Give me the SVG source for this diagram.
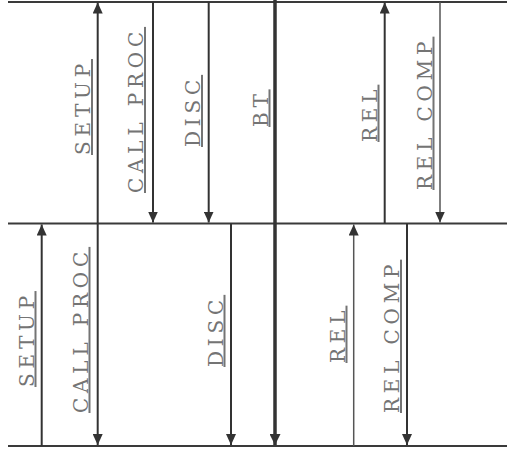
<svg xmlns="http://www.w3.org/2000/svg" width="509" height="450" viewBox="0 0 509 450">
<style>
.hl{stroke:#3a3a3a;stroke-width:2;fill:none}
.ar{stroke:#333;stroke-width:2;fill:none;marker-end:url(#ah)}
.thin{stroke:#555;stroke-width:1.5}
.bt{stroke:#333;stroke-width:3.5;fill:none;marker-end:url(#ahb)}
.lb{font-family:"DejaVu Serif",serif;font-size:20px;letter-spacing:4.8px;fill:#747474;text-decoration:underline}
</style>
<defs>
<marker id="ah" markerUnits="userSpaceOnUse" markerWidth="12" markerHeight="10" refX="11" refY="5" orient="auto" viewBox="0 0 12 10">
<path d="M0,0 L11,5 L0,10 z" fill="#333"/>
</marker>
<marker id="ahb" markerUnits="userSpaceOnUse" markerWidth="12" markerHeight="11" refX="11" refY="5.5" orient="auto" viewBox="0 0 12 11">
<path d="M0,0 L11,5.5 L0,11 z" fill="#333"/>
</marker>
</defs>
<g id="timelines">
<line id="line-top" class="hl" x1="8" y1="2" x2="507" y2="2"/>
<line id="line-mid" class="hl" x1="8" y1="223.5" x2="507" y2="223.5"/>
<line id="line-bot" class="hl" x1="8" y1="446" x2="507" y2="446"/>
</g>
<g id="connectors">
<path class="ar" d="M97.7,223.5 V2.5"/>
<path class="ar" d="M153,2 V222.5"/>
<path class="ar" d="M208.7,2 V222.5"/>
<path class="bt" d="M275,0 V445"/>
<path class="ar" d="M384.7,223.5 V2.5"/>
<path class="ar thin" d="M440,2 V222.5"/>
<path class="ar" d="M41.7,446 V224.5"/>
<path class="ar" d="M97.7,223.5 V445"/>
<path class="ar" d="M231,223.5 V445"/>
<path class="ar thin" d="M353.7,446 V224.5"/>
<path class="ar" d="M407,223.5 V445"/>
</g>
<g id="labels">
<g id="t-setup"><text class="lb" transform="translate(90,155) rotate(-90)">SETUP</text></g>
<g id="t-callproc"><text class="lb" transform="translate(143,193) rotate(-90)">CALL PROC</text></g>
<g id="t-disc"><text class="lb" transform="translate(200,147) rotate(-90)">DISC</text></g>
<g id="t-bt"><text class="lb" transform="translate(267.5,127) rotate(-90)">BT</text></g>
<g id="t-rel"><text class="lb" transform="translate(376.5,142) rotate(-90)">REL</text></g>
<g id="t-relcomp"><text class="lb" transform="translate(431.5,190) rotate(-90)">REL COMP</text></g>
<g id="b-setup"><text class="lb" transform="translate(33.5,387) rotate(-90)">SETUP</text></g>
<g id="b-callproc"><text class="lb" transform="translate(87.5,413) rotate(-90)">CALL PROC</text></g>
<g id="b-disc"><text class="lb" transform="translate(222.5,367) rotate(-90)">DISC</text></g>
<g id="b-rel"><text class="lb" transform="translate(344.5,363) rotate(-90)">REL</text></g>
<g id="b-relcomp"><text class="lb" transform="translate(399,413) rotate(-90)">REL COMP</text></g>
</g>
</svg>
